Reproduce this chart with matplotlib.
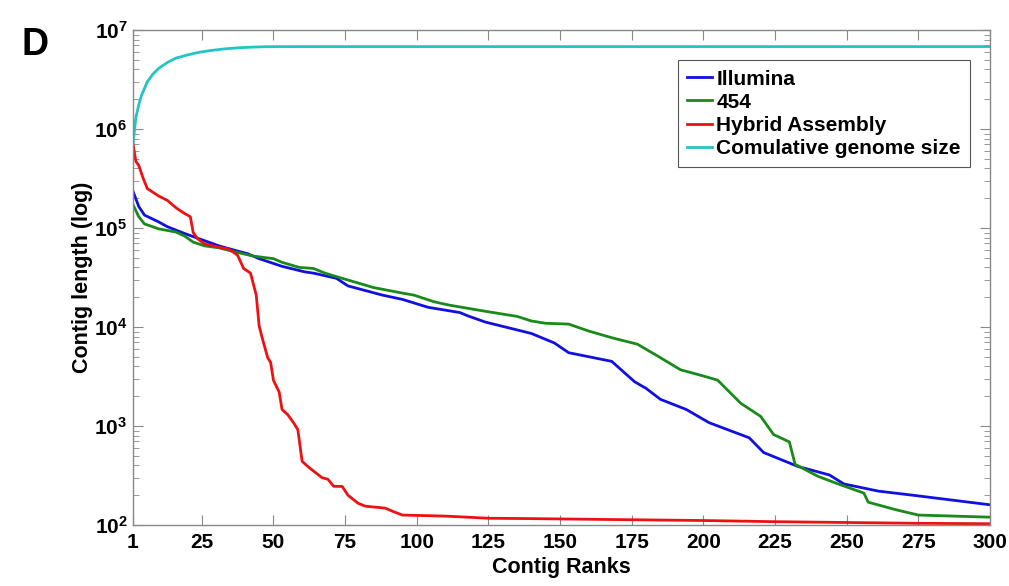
import math
import matplotlib
matplotlib.use("Agg")
import matplotlib.pyplot as plt
from matplotlib.ticker import FixedLocator, FuncFormatter, LogLocator, NullFormatter

plt.rcParams['font.family'] = ['Liberation Sans', 'DejaVu Sans']
plt.rcParams['font.weight'] = 'bold'
plt.rcParams['mathtext.fontset'] = 'custom'
plt.rcParams['mathtext.rm'] = 'Liberation Sans:bold'
plt.rcParams['mathtext.bf'] = 'Liberation Sans:bold'
plt.rcParams['mathtext.it'] = 'Liberation Sans:bold'

# ---- data ----
illumina_x = [1, 3, 5, 10, 13, 19, 24, 31, 37, 41, 45, 53, 61, 64, 72, 76, 88, 95, 104,
              115, 118, 124, 134, 140, 148, 153, 168, 176, 180, 185, 194, 202, 216, 221,
              233, 244, 249, 261, 273, 300]
illumina_y = [2.35e5, 1.65e5, 1.35e5, 1.15e5, 1.03e5, 8.8e4, 7.8e4, 6.6e4, 5.9e4, 5.5e4,
              4.9e4, 4.1e4, 3.6e4, 3.5e4, 3.1e4, 2.6e4, 2.1e4, 1.9e4, 1.58e4, 1.4e4,
              1.29e4, 1.12e4, 9.5e3, 8.6e3, 6.9e3, 5.5e3, 4.5e3, 2.8e3, 2.4e3, 1.86e3,
              1.47e3, 1.08e3, 7.6e2, 5.4e2, 3.9e2, 3.2e2, 2.6e2, 2.2e2, 2.0e2, 1.6e2]

f454_x = [1, 3, 5, 10, 16, 19, 22, 26, 31, 37, 43, 50, 53, 59, 64, 68, 74, 85, 95, 99,
          106, 111, 124, 135, 140, 145, 153, 160, 168, 177, 184, 192, 200, 205, 213, 220,
          224.5, 230, 232, 240, 247, 256, 257.5, 267, 275, 300]
f454_y = [1.72e5, 1.3e5, 1.1e5, 9.8e4, 9.1e4, 8.3e4, 7.2e4, 6.6e4, 6.3e4, 5.7e4, 5.2e4,
          4.9e4, 4.5e4, 4.0e4, 3.9e4, 3.5e4, 3.1e4, 2.5e4, 2.2e4, 2.1e4, 1.8e4, 1.67e4,
          1.44e4, 1.28e4, 1.15e4, 1.09e4, 1.07e4, 9.1e3, 7.8e3, 6.7e3, 5.1e3, 3.7e3,
          3.2e3, 2.9e3, 1.7e3, 1.25e3, 8.2e2, 6.9e2, 4.1e2, 3.1e2, 2.6e2, 2.1e2, 1.7e2,
          1.43e2, 1.26e2, 1.2e2]

hybrid_x = [1, 2, 3, 4.5, 6, 10, 13, 16, 19, 21, 22, 23.5, 26, 32, 34, 36, 37.5, 39.6,
            42, 44, 45, 46, 48, 49, 50, 52, 53, 55, 57, 58.5, 60, 62, 64, 67, 69, 71, 74,
            76, 79.5, 82, 89, 92, 95, 110, 125, 140, 175, 200, 225, 250, 275, 300]
hybrid_y = [7.1e5, 4.7e5, 4.3e5, 3.2e5, 2.5e5, 2.1e5, 1.9e5, 1.6e5, 1.4e5, 1.3e5, 9.0e4,
            7.8e4, 6.9e4, 6.3e4, 6.2e4, 5.7e4, 5.3e4, 3.9e4, 3.5e4, 2.1e4, 1.03e4, 7.9e3,
            4.9e3, 4.4e3, 2.9e3, 2.2e3, 1.47e3, 1.3e3, 1.08e3, 9.2e2, 4.4e2, 3.9e2,
            3.5e2, 3.0e2, 2.9e2, 2.46e2, 2.45e2, 2.0e2, 1.66e2, 1.55e2, 1.48e2, 1.36e2,
            1.26e2, 1.23e2, 1.17e2, 1.16e2, 1.13e2, 1.11e2, 1.08e2, 1.06e2, 1.04e2, 1.03e2]

cumul_x = [1, 2, 3, 4, 6, 8, 10, 13, 16, 20, 24, 28, 33, 38, 43, 47, 60, 300]
cumul_y = [7.1e5, 1.3e6, 1.75e6, 2.2e6, 3.0e6, 3.6e6, 4.1e6, 4.7e6, 5.2e6, 5.6e6,
           5.95e6, 6.2e6, 6.45e6, 6.62e6, 6.72e6, 6.78e6, 6.8e6, 6.8e6]

series_labels = ['Illumina', '454', 'Hybrid Assembly', 'Comulative genome size']
series_colors = ['#1010e0', '#1a8a1a', '#ee1111', '#22c4c4']

x_ticks = [1, 25, 50, 75, 100, 125, 150, 175, 200, 225, 250, 275, 300]
y_ticks = [1e2, 1e3, 1e4, 1e5, 1e6, 1e7]

# ---- figure ----
fig = plt.figure(figsize=(10.09, 5.86), dpi=100)
ax = fig.add_axes([133/1009, 1-525/586, 857/1009, 495/586])

lw = 2.0
for xs, ys, lab, col in zip([illumina_x, f454_x, hybrid_x, cumul_x],
                            [illumina_y, f454_y, hybrid_y, cumul_y],
                            series_labels, series_colors):
    ax.plot(xs, ys, color=col, lw=lw, label=lab)

ax.set_yscale('log')
ax.set_xlim(1, 300)
ax.set_ylim(1e2, 1e7)
ax.xaxis.set_major_locator(FixedLocator(x_ticks))
ax.set_xticklabels([str(t) for t in x_ticks])
ax.yaxis.set_major_locator(FixedLocator(y_ticks))
ax.yaxis.set_major_formatter(FuncFormatter(lambda v, p: r'$10^{%d}$' % round(math.log10(v))))
ax.yaxis.set_minor_locator(LogLocator(base=10, subs=range(2, 10)))
ax.yaxis.set_minor_formatter(NullFormatter())

for s in ax.spines.values():
    s.set_color('#888888')
    s.set_linewidth(1.0)
ax.tick_params(axis='both', which='both', direction='in', top=True, right=True,
               color='#888888')
ax.tick_params(axis='both', which='major', length=7, labelsize=15)
ax.tick_params(axis='x', which='major', pad=6)
ax.tick_params(axis='y', which='major', pad=4)
ax.tick_params(axis='y', which='minor', length=4)
for lbl in ax.get_xticklabels() + ax.get_yticklabels():
    lbl.set_fontweight('bold')

ax.set_xlabel('Contig Ranks', fontsize=15.5, fontweight='bold', labelpad=3)
ax.set_ylabel('Contig length (log)', fontsize=15.5, fontweight='bold', labelpad=0.5)

leg = ax.legend(loc='upper right', bbox_to_anchor=(0.977, 0.939), fancybox=False,
                framealpha=1, edgecolor='#555555', fontsize=15, handlelength=1.2,
                handletextpad=0.2, borderpad=0.45, labelspacing=0.2, borderaxespad=0)
for t in leg.get_texts():
    t.set_fontweight('bold')
leg.get_frame().set_linewidth(0.8)

fig.text(22/1009, 1-45/586, 'D', fontsize=27, fontweight='bold', va='center', ha='left')

fig.savefig('out.png', dpi=100)
